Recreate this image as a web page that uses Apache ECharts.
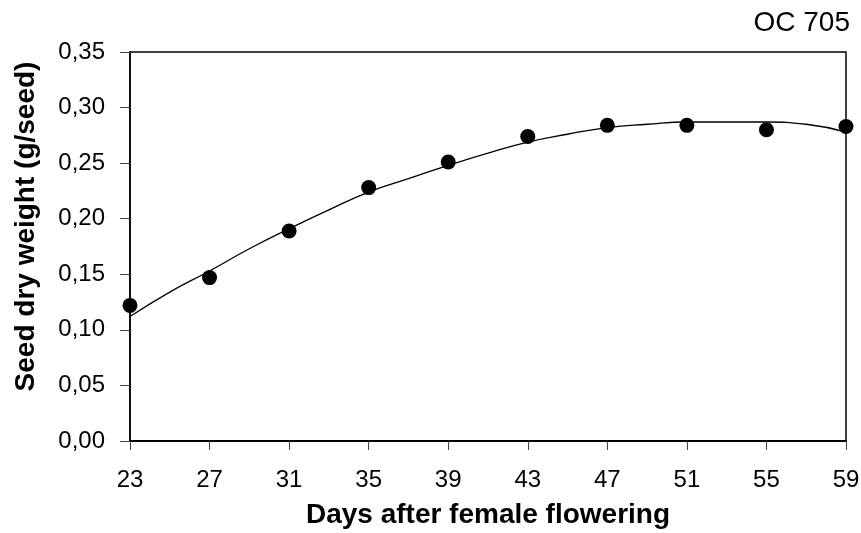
<!DOCTYPE html>
<html>
<head>
<meta charset="utf-8">
<script src="https://cdn.jsdelivr.net/npm/echarts@6/dist/echarts.min.js"></script>
<style>
  html, body { margin: 0; padding: 0; background: #fff; }
  #chart { width: 861px; height: 533px; }
</style>
</head>
<body>
<div id="chart"></div>
<script>
// Observed data points (days after female flowering, seed dry weight g/seed)
const obsDays = [23, 27, 31, 35, 39, 43, 47, 51, 55, 59];
const obsWeight = [0.122, 0.147, 0.189, 0.228, 0.251, 0.274, 0.284, 0.284, 0.280, 0.283];

// Fitted curve
const fitDays = [23, 25, 27, 29, 31, 33, 35, 37, 39, 41, 43, 45, 47, 49, 51, 53, 55, 57, 59];
const fitWeight = [0.112, 0.134, 0.153, 0.173, 0.191, 0.208, 0.224, 0.236, 0.248, 0.259, 0.269, 0.276, 0.282, 0.285, 0.287, 0.287, 0.287, 0.285, 0.278];

// Tick labels
const xTicks = [23, 27, 31, 35, 39, 43, 47, 51, 55, 59];
const yMin = 0, yMax = 0.35, yStep = 0.05;

const chartTitle = 'OC 705';
const xTitle = 'Days after female flowering';
const yTitle = 'Seed dry weight (g/seed)';

const FONT = '"Liberation Sans", Arial, sans-serif';

const chart = echarts.init(document.getElementById('chart'), null, { renderer: 'canvas' });
chart.setOption({
  backgroundColor: '#ffffff',
  animation: false,
  title: {
    text: chartTitle,
    right: 6,
    top: 4,
    textStyle: { fontFamily: FONT, fontSize: 28, fontWeight: 'normal', color: '#000' }
  },
  grid: {
    left: 130, right: 15, top: 52, bottom: 92,
    outerBoundsMode: 'none',
    containLabel: false,
    show: true, borderColor: '#000', borderWidth: 1.5, backgroundColor: 'transparent'
  },
  xAxis: {
    type: 'value',
    min: 23, max: 59,
    name: xTitle,
    nameLocation: 'middle',
    nameGap: 60,
    nameTextStyle: { fontFamily: FONT, fontSize: 28, fontWeight: 'bold', color: '#000' },
    axisLine: { show: true, onZero: false, lineStyle: { color: '#000', width: 2 } },
    axisTick: { show: true, inside: false, length: 9, customValues: xTicks, lineStyle: { color: '#444', width: 1 } },
    axisLabel: {
      customValues: xTicks, margin: 27,
      fontFamily: FONT, fontSize: 24, color: '#000'
    },
    splitLine: { show: false }
  },
  yAxis: {
    type: 'value',
    min: yMin, max: yMax, interval: yStep,
    name: yTitle,
    nameLocation: 'middle',
    nameGap: 90,
    nameTextStyle: { fontFamily: FONT, fontSize: 28, fontWeight: 'bold', color: '#000', padding: [0, 0, 0, 40] },
    axisLine: { show: true, lineStyle: { color: '#000', width: 1.5 } },
    axisTick: { show: true, inside: false, length: 10, lineStyle: { color: '#444', width: 1 } },
    axisLabel: {
      margin: 25,
      fontFamily: FONT, fontSize: 24, color: '#000',
      formatter: v => v.toFixed(2).replace('.', ',')
    },
    splitLine: { show: false }
  },
  series: [
    {
      type: 'line',
      data: fitDays.map((d, i) => [d, fitWeight[i]]),
      smooth: true,
      showSymbol: false,
      lineStyle: { color: '#000', width: 1.3 },
      z: 2
    },
    {
      type: 'scatter',
      data: obsDays.map((d, i) => [d, obsWeight[i]]),
      symbol: 'circle',
      symbolSize: 15,
      itemStyle: { color: '#000', opacity: 1 },
      z: 3
    }
  ]
});
</script>
</body>
</html>
